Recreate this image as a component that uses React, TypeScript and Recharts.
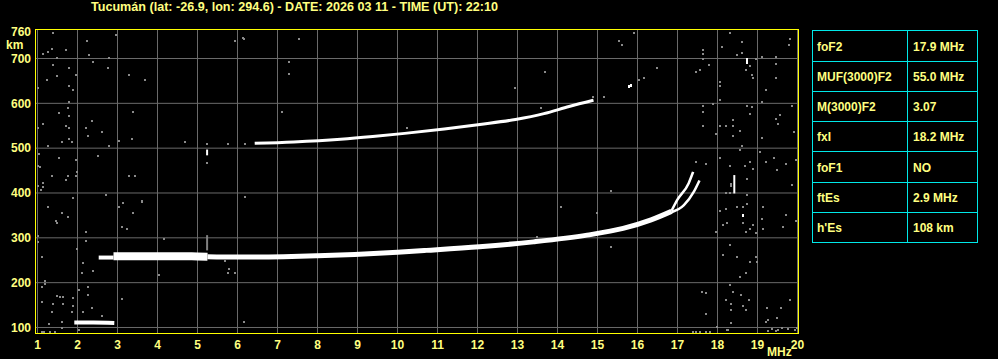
import { ComposedChart, Line, Scatter, XAxis, YAxis, CartesianGrid } from "recharts";

const TITLE = "Tucumán (lat: -26.9, lon: 294.6) - DATE: 2026 03 11 - TIME (UT): 22:10";

const FREQ_TICKS = [1, 2, 3, 4, 5, 6, 7, 8, 9, 10, 11, 12, 13, 14, 15, 16, 17, 18, 19, 20];
const HEIGHT_TICKS = [100, 200, 300, 400, 500, 600, 700, 760];
const HEIGHT_GRID = [100, 200, 300, 400, 500, 600, 700];

const PARAM_NAMES = ["foF2", "MUF(3000)F2", "M(3000)F2", "fxI", "foF1", "ftEs", "h'Es"];
const PARAM_VALUES = ["17.9 MHz", "55.0 MHz", "3.07", "18.2 MHz", "NO", "2.9 MHz", "108 km"];

// echo traces (MHz, km)
const ES_TRACE = [
  { f: 1.92, h: 111 },
  { f: 2.4, h: 111 },
  { f: 2.92, h: 110 },
];
const F_START = [
  { f: 2.53, h: 256 },
  { f: 2.9, h: 256 },
];
const F_LOW = [
  { f: 2.9, h: 259 },
  { f: 4.0, h: 259 },
  { f: 5.0, h: 258.5 },
  { f: 5.25, h: 258 },
];
const F_MAIN = [
  { f: 5.25, h: 258 },
  { f: 6.0, h: 257 },
  { f: 7.15, h: 258 },
  { f: 8.0, h: 260 },
  { f: 8.93, h: 263 },
  { f: 10.0, h: 268 },
  { f: 10.72, h: 272 },
  { f: 12.05, h: 280 },
  { f: 13.4, h: 291 },
  { f: 14.74, h: 306 },
  { f: 15.64, h: 321 },
  { f: 16.34, h: 340 },
  { f: 16.85, h: 359 },
];
const F_BRANCH_O = [
  { f: 16.85, h: 360 },
  { f: 16.99, h: 384 },
  { f: 17.28, h: 422 },
  { f: 17.39, h: 447 },
];
const F_BRANCH_X = [
  { f: 16.85, h: 357 },
  { f: 17.16, h: 373 },
  { f: 17.41, h: 403 },
  { f: 17.55, h: 428 },
];
const F_SECOND_HOP = [
  { f: 6.43, h: 511 },
  { f: 7.41, h: 514 },
  { f: 8.58, h: 520 },
  { f: 9.38, h: 526 },
  { f: 10.18, h: 533 },
  { f: 11.17, h: 543 },
  { f: 12.06, h: 553 },
  { f: 12.95, h: 564 },
  { f: 13.66, h: 577 },
  { f: 14.29, h: 593 },
  { f: 14.9, h: 607 },
];
const SPIKE_WHITE = [
  { f: 18.42, h: 399 },
  { f: 18.42, h: 440 },
];
const SPIKE_WHITE_2 = [
  { f: 5.24, h: 484 },
  { f: 5.24, h: 497 },
];
const SPIKE_GRAY = [
  { f: 5.24, h: 272 },
  { f: 5.24, h: 306 },
];

const WHITE_SPECKS: [number, number][] = [
  [18.74, 700], [18.74, 692], [18.64, 352], [15.79, 639], [15.83, 641],
];

const NOISE: [number, number][] = [
  [1.39, 757], [2.24, 739], [2.95, 753], [1.14, 711], [1.25, 714], [1.35, 722], [1.7, 720], [1.5, 702],
  [2.29, 707], [2.79, 702], [2.39, 692], [1.39, 685], [1.79, 678], [2.75, 679], [1.96, 663], [1.49, 661],
  [3.29, 663], [1.24, 652], [3.68, 652], [1.79, 638], [1.89, 629], [1.79, 602], [1.75, 590], [1.54, 579],
  [3.39, 581], [1.79, 572], [1.14, 553], [1.7, 549], [2.35, 560], [2.21, 545], [1.79, 544], [2.6, 535],
  [2.25, 527], [1.79, 521], [1.6, 514], [1.85, 514], [3.04, 515], [3.35, 520], [2.79, 505], [1.25, 505],
  [1.04, 488], [2.5, 483], [1.54, 478], [1.96, 473], [1.06, 458], [1.99, 447], [1.35, 438], [1.75, 438],
  [1.96, 438], [1.7, 428], [1.14, 423], [1.14, 413], [1.08, 407], [3.29, 438], [3.44, 438], [1.88, 389],
  [2.7, 395], [3.6, 382], [3.14, 378], [3.04, 369], [1.25, 369], [1.6, 355], [3.39, 355], [1.75, 346],
  [1.45, 337], [1.5, 332], [3.1, 324], [3.24, 319], [2.2, 314], [2.2, 292], [1.99, 274], [1.1, 257],
  [2.14, 243], [2.39, 225], [2.1, 221], [1.18, 203], [1.18, 197], [1.1, 190], [2.04, 184], [2.25, 190],
  [2.25, 173], [1.5, 171], [1.56, 168], [1.64, 168], [1.89, 165], [1.1, 157], [1.39, 152], [1.64, 152],
  [1.89, 148], [2.35, 143], [3.1, 163], [1.35, 134], [1.85, 134], [2.14, 134], [2.6, 125], [1.6, 112],
  [1.29, 107], [1.6, 98], [2.04, 95], [1.1, 91], [1.15, 90], [1.3, 90], [1.44, 90],
  [1.02, 634], [1.02, 545], [1.02, 460], [1.02, 415], [1.02, 305], [1.02, 290],
  [5.94, 739], [6.15, 743], [7.55, 743], [6.14, 745], [7.3, 692], [7.3, 665], [7.1, 581], [4.69, 514],
  [5.25, 509], [5.75, 509], [6.19, 509], [13.69, 670], [12.94, 634], [15.9, 756], [15.54, 739], [15.6, 730],
  [16.5, 679], [16.15, 657], [16.03, 652], [15.16, 614], [14.89, 614], [10.25, 545], [13.59, 590], [5.24, 466],
  [3.6, 381], [6.19, 391], [4.16, 297], [4.04, 216], [5.79, 230], [5.75, 221], [5.94, 221], [5.69, 248],
  [6.15, 112], [15.34, 404], [14.09, 369], [14.99, 355], [15.34, 279], [13.49, 302], [17.46, 90], [17.38, 90],
  [17.7, 90], [18.33, 109], [18.26, 95],
  [18.3, 758], [19.8, 743], [18.6, 736], [19.78, 730], [17.64, 720], [18.12, 725], [17.64, 711], [18.6, 712],
  [18.49, 707], [17.64, 699], [19.1, 703], [19.45, 703], [18.95, 698], [17.79, 685], [19.45, 687], [18.81, 684],
  [17.55, 674], [17.45, 670], [18.7, 674], [18.05, 648], [18.85, 663], [18.89, 657], [19.45, 657], [18.05, 638],
  [19.2, 629], [18.05, 607], [19.1, 602], [17.64, 594], [17.89, 599], [18.74, 594], [18.85, 592], [19.85, 594],
  [17.64, 581], [18.81, 576], [19.55, 573], [18.39, 562], [19.45, 566], [19.52, 555], [17.64, 550], [18.05, 550],
  [18.2, 550], [18.39, 550], [18.55, 538], [19.9, 536], [17.95, 532], [18.39, 527], [19.1, 523], [18.6, 505],
  [18.55, 496], [19.05, 491], [18.05, 478], [19.41, 478], [19.95, 473], [17.45, 469], [17.7, 465], [18.81, 469],
  [19.2, 469], [19.7, 465], [18.3, 460], [18.68, 460], [18.89, 454], [19.49, 451], [18.74, 432], [19.85, 417],
  [18.34, 421], [18.34, 415], [18.3, 399], [18.2, 399], [18.74, 395], [18.74, 376], [18.49, 369], [18.64, 369],
  [19.14, 369], [18.2, 365], [18.05, 360], [19.7, 352], [19.1, 343], [19.95, 337], [18.64, 332], [18.14, 328],
  [18.89, 328], [18.24, 332], [19.64, 324], [19.14, 320], [18.81, 319], [18.7, 314], [17.95, 314], [18.95, 310],
  [18.3, 283], [18.14, 261], [18.49, 257], [18.95, 257], [18.99, 247], [18.81, 247], [18.55, 212], [18.7, 221],
  [18.3, 194], [18.39, 180], [17.62, 179], [17.7, 177], [18.58, 173], [18.2, 162], [18.78, 162], [19.81, 162],
  [18.34, 152], [18.64, 147], [19.24, 143], [19.59, 143], [18.34, 138], [18.7, 138], [17.7, 130], [19.49, 121],
  [19.27, 116], [19.2, 112], [18.34, 110], [17.99, 101], [18.24, 95], [17.55, 90], [17.8, 90], [19.35, 97],
  [19.52, 95], [19.6, 99], [19.77, 97], [19.93, 95], [19.99, 99], [19.25, 93], [19.45, 92],
];

const noiseData = NOISE.map(([f, h]) => ({ f, h }));
const speckData = WHITE_SPECKS.map(([f, h]) => ({ f, h }));

const YELLOW = "#ffff80";
const FRAME = "#ffff00";
const CYAN = "#00e8e8";
const FONT = "'Liberation Sans', Arial, sans-serif";

function GrayDot(props: any) {
  const { cx, cy } = props;
  if (cx == null || cy == null) return null;
  return <rect x={Math.round(cx) - 1} y={Math.round(cy) - 1} width={2} height={2} fill="#8a8a8a" />;
}

function WhiteDot(props: any) {
  const { cx, cy } = props;
  if (cx == null || cy == null) return null;
  return <rect x={Math.round(cx) - 1} y={Math.round(cy) - 1} width={2} height={3} fill="#ffffff" />;
}

function YTick({ y, payload }: any) {
  return (
    <text x={31} y={y + 4.3} textAnchor="end" fill={YELLOW} fontSize={12} fontWeight="bold" fontFamily={FONT}>
      {payload.value}
    </text>
  );
}

function XTick({ x, payload }: any) {
  return (
    <text x={x} y={348.5} textAnchor="middle" fill={YELLOW} fontSize={12} fontWeight="bold" fontFamily={FONT}>
      {payload.value}
    </text>
  );
}

function trace(data: { f: number; h: number }[], width: number, color = "#ffffff", type: any = "monotone") {
  return (
    <Line
      data={data}
      dataKey="h"
      type={type}
      stroke={color}
      strokeWidth={width}
      dot={false}
      activeDot={false}
      isAnimationActive={false}
      strokeLinecap="butt"
    />
  );
}

const ROW_LINES = [30, 61, 91, 121, 151, 182, 212, 242];

export default function App() {
  return (
    <div style={{ position: "fixed", left: 0, top: 0, width: 998, height: 359, background: "#000" }}>
      <ComposedChart
        width={998}
        height={359}
        margin={{ top: 30, right: 200, bottom: 0, left: 0 }}
        style={{ background: "#000" }}
      >
        <CartesianGrid
          stroke="#6a6a6a"
          strokeWidth={1}
          horizontalValues={HEIGHT_GRID}
          verticalValues={FREQ_TICKS}
        />
        <XAxis
          dataKey="f"
          type="number"
          domain={[0.9625, 20.0125]}
          ticks={FREQ_TICKS}
          interval={0}
          height={26}
          axisLine={false}
          tickLine={false}
          tick={<XTick />}
          allowDataOverflow
        />
        <YAxis
          dataKey="h"
          type="number"
          domain={[87.7, 763.6]}
          ticks={HEIGHT_TICKS}
          interval={0}
          width={36}
          axisLine={false}
          tickLine={false}
          tick={<YTick />}
          allowDataOverflow
        />
        <Scatter data={noiseData} shape={<GrayDot />} isAnimationActive={false} />
        {trace(SPIKE_GRAY, 2, "#808080", "linear")}
        {trace(ES_TRACE, 4)}
        {trace(F_START, 4)}
        {trace(F_LOW, 8)}
        {trace(F_MAIN, 5)}
        {trace(F_BRANCH_O, 2.5)}
        {trace(F_BRANCH_X, 2.5)}
        {trace(F_SECOND_HOP, 3)}
        {trace(SPIKE_WHITE, 2, "#ffffff", "linear")}
        {trace(SPIKE_WHITE_2, 2, "#ffffff", "linear")}
        <Scatter data={speckData} shape={<WhiteDot />} isAnimationActive={false} />
      </ComposedChart>

      <svg
        width={998}
        height={359}
        style={{ position: "absolute", left: 0, top: 0, pointerEvents: "none" }}
        fontFamily={FONT}
        fontWeight="bold"
        fontSize={12}
      >
        <text x={91} y={11} fill={YELLOW} textLength={407} lengthAdjust="spacingAndGlyphs">
          {TITLE}
        </text>
        <rect x={35.5} y={29.5} width={763} height={304} fill="none" stroke={FRAME} strokeWidth={1} />
        <text x={6} y={49} fill={YELLOW}>km</text>
        <text x={767} y={356} fill={YELLOW}>MHz</text>

        <rect x={812.5} y={30.5} width={165} height={212} fill="#000" stroke={CYAN} strokeWidth={1} />
        <line x1={907.5} y1={30.5} x2={907.5} y2={242.5} stroke={CYAN} strokeWidth={1} />
        {ROW_LINES.slice(1, -1).map((y) => (
          <line key={y} x1={812.5} y1={y + 0.5} x2={977.5} y2={y + 0.5} stroke={CYAN} strokeWidth={1} />
        ))}
        {PARAM_NAMES.map((name, i) => {
          const base = (ROW_LINES[i] + ROW_LINES[i + 1]) / 2 + 5;
          return (
            <g key={name}>
              <text x={817} y={base} fill={YELLOW}>{name}</text>
              <text x={913} y={base} fill={YELLOW}>{PARAM_VALUES[i]}</text>
            </g>
          );
        })}
      </svg>
    </div>
  );
}
